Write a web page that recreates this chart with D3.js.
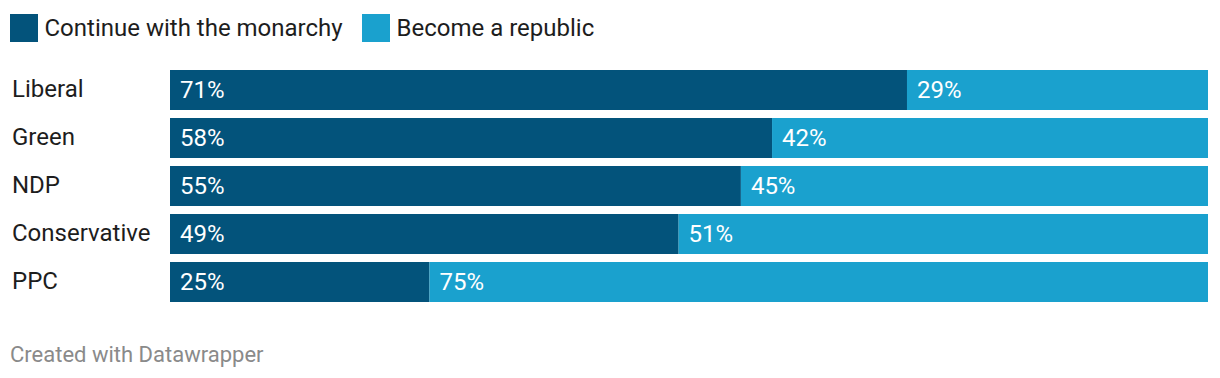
<!DOCTYPE html>
<html><head><meta charset="utf-8">
<script src="https://cdn.jsdelivr.net/npm/d3@7"></script>
<style>body{margin:0;background:#fff;}svg{display:block;font-family:Roboto,sans-serif;}</style>
</head><body>
<svg id="chart" width="1220" height="378"></svg>
<script>
const categories = ["Liberal", "Green", "NDP", "Conservative", "PPC"];
const seriesNames = ["Continue with the monarchy", "Become a republic"];
const monarchy = [71, 58, 55, 49, 25];
const republic = [29, 42, 45, 51, 75];
const colors = ["#03537b", "#1aa1ce"];
const footer = "Created with Datawrapper";

const svg = d3.select("#chart");
const x = d3.scaleLinear().domain([0, 100]).range([170, 1208]);
const y = d3.scaleBand().domain(categories).range([70, 302]).paddingInner(8/48).paddingOuter(0);

// legend
const leg = svg.append("g");
const legX = [10, 362];
seriesNames.forEach((n, i) => {
  leg.append("rect").attr("x", legX[i]).attr("y", 14).attr("width", 28).attr("height", 28).attr("fill", colors[i]);
  leg.append("text").attr("x", legX[i] + 34.5).attr("y", 36).attr("font-size", 24).attr("fill", "#1d1d1d").text(n);
});

const data = categories.map((c, i) => ({c, vals: [monarchy[i], republic[i]]}));
const rows = svg.append("g").selectAll("g").data(data).join("g");
rows.append("text").attr("x", 12).attr("y", d => y(d.c) + y.bandwidth()/2 + 6.5)
  .attr("font-size", 24).attr("fill", "#1d1d1d").text(d => d.c);
rows.each(function(d) {
  const g = d3.select(this);
  let start = 0;
  d.vals.forEach((v, i) => {
    g.append("rect").attr("x", x(start)).attr("y", y(d.c)).attr("width", x(start + v) - x(start))
      .attr("height", y.bandwidth()).attr("fill", colors[i]);
    g.append("text").attr("x", x(start) + 10).attr("y", y(d.c) + y.bandwidth()/2 + 8)
      .attr("font-size", 24).attr("fill", "#fff").text(v + "%");
    start += v;
  });
});

svg.append("text").attr("x", 10).attr("y", 362).attr("font-size", 22).attr("fill", "#8a8a8a").text(footer);
</script>
</body></html>
